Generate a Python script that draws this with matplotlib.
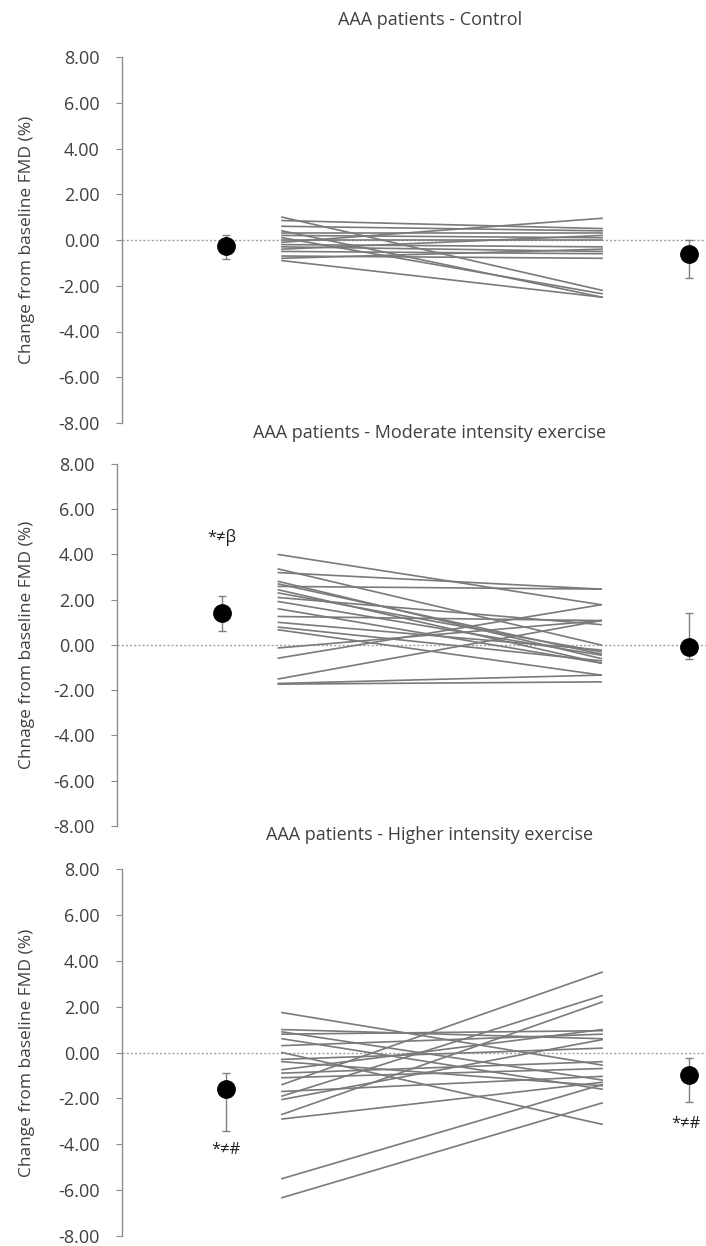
import numpy as np
import matplotlib.pyplot as plt

plt.rcParams['font.family'] = ['Open Sans', 'DejaVu Sans']

titles = ['AAA patients - Control',
          'AAA patients - Moderate intensity exercise',
          'AAA patients - Higher intensity exercise']
ylabels = ['Change from baseline FMD (%)',
           'Chnage from baseline FMD (%)',
           'Change from baseline FMD (%)']
yticks = [8, 6, 4, 2, 0, -2, -4, -6, -8]

# individual patients: change at first and second time point
control_pre = [1.0, 0.85, 0.6, 0.4, 0.3, 0.2, 0.1, 0.0, -0.1, -0.2, -0.3, -0.4, -0.5, -0.7, -0.9, -0.8]
control_post = [-2.2, 0.5, 0.4, -2.5, 0.3, 0.1, -2.35, 0.0, 0.95, -0.3, -0.5, 0.2, -0.6, -0.8, -2.5, -0.4]

moderate_pre = [4.0, 3.36, 3.2, 2.81, 2.59, 2.44, 2.3, 1.92, 1.26, 0.79, 0.67, -0.13, -0.58, -1.5,
                -1.7, -1.73, 1.0, 2.1, 1.6, 2.7]
moderate_post = [1.78, 0.0, 2.47, -0.6, 2.47, -0.8, -0.3, -0.45, 1.08, -0.7, -1.33, 1.08, 1.78, 1.08,
                 -1.33, -1.63, -0.22, 0.9, -0.8, -0.4]

higher_pre = [1.74, 1.0, 0.9, 0.8, 0.6, 0.3, 0.0, -0.3, -0.4, -0.75, -0.9, -1.1, -1.4, -1.7, -1.9,
              -2.05, -2.7, -2.9, -5.5, -6.33]
higher_post = [-0.55, 0.6, -1.2, 0.95, -1.6, 0.8, -3.13, 0.19, -1.45, 1.0, -0.4, -0.7, 3.5, -1.04,
               2.48, 0.56, 2.2, -1.3, -1.4, -2.2]

# group means with asymmetric error bars (lower, upper)
mean_pre = [-0.28, 1.43, -1.57]
err_pre_low = [0.55, 0.83, 1.86]
err_pre_high = [0.52, 0.75, 0.66]
mean_post = [-0.62, -0.1, -1.0]
err_post_low = [1.03, 0.53, 1.16]
err_post_high = [0.62, 1.52, 0.75]

annot_pre = [None, ('*≠β', 4.75), ('*≠#', -4.26)]
annot_post = [None, None, ('*≠#', -3.1)]

pre_list = [control_pre, moderate_pre, higher_pre]
post_list = [control_post, moderate_post, higher_post]

X_MEAN_PRE, X_LINE0, X_LINE1, X_MEAN_POST = 1.78, 2.74, 8.22, 9.71

fig = plt.figure(figsize=(7.06, 12.46), dpi=100)
W, H = 706, 1246
# axes boxes in pixels: left, top(8), bottom(-8)
boxes = [(122, 57, 423), (117, 464, 826), (122, 869, 1236)]
title_y = [20, 433, 835]
label_col = '#404040'
axis_col = '#8c8c8c'

for i in range(3):
    left, top, bot = boxes[i]
    ax = fig.add_axes([left / W, 1 - bot / H, (W - left) / W, (bot - top) / H])
    ax.set_xlim(0, 10)
    ax.set_ylim(-8, 8)
    ax.axhline(0, color='#a0a0a0', linestyle=(0, (1.5, 1.5)), linewidth=1, zorder=1)

    for a, b in zip(pre_list[i], post_list[i]):
        ax.plot([X_LINE0, X_LINE1], [a, b], color='#7a7a7a', linewidth=1.2, zorder=2)

    ax.errorbar([X_MEAN_PRE], [mean_pre[i]], yerr=[[err_pre_low[i]], [err_pre_high[i]]],
                fmt='o', color='black', markersize=12.5, ecolor='#808080', elinewidth=1,
                capsize=3, capthick=1, zorder=3)
    ax.errorbar([X_MEAN_POST], [mean_post[i]], yerr=[[err_post_low[i]], [err_post_high[i]]],
                fmt='o', color='black', markersize=12.5, ecolor='#808080', elinewidth=1,
                capsize=3, capthick=1, zorder=3)

    if annot_pre[i]:
        txt, yv = annot_pre[i]
        ax.text(X_MEAN_PRE, yv, txt, ha='center', va='center', fontsize=12, color='#202020')
    if annot_post[i]:
        txt, yv = annot_post[i]
        ax.text(X_MEAN_POST - 0.05, yv, txt, ha='center', va='center', fontsize=12, color='#202020')

    ax.set_yticks(yticks)
    ax.set_yticklabels([f'{v:.2f}' for v in yticks])
    ax.set_xticks([])
    for s in ['top', 'right', 'bottom']:
        ax.spines[s].set_visible(False)
    ax.spines['left'].set_color(axis_col)
    ax.spines['left'].set_linewidth(1)
    ax.tick_params(axis='y', direction='out', length=4, color=axis_col,
                   labelsize=13, labelcolor=label_col, pad=12)
    ax.patch.set_alpha(0)

    ax.set_ylabel(ylabels[i], fontsize=12.5, color=label_col)
    ax.yaxis.label.set_va('center')
    ax.yaxis.set_label_coords((27 - left) / (W - left), 0.5)

    fig.text(430 / W, 1 - title_y[i] / H, titles[i], ha='center', va='center',
             fontsize=13, color=label_col)

fig.savefig('out.png', dpi=100)
